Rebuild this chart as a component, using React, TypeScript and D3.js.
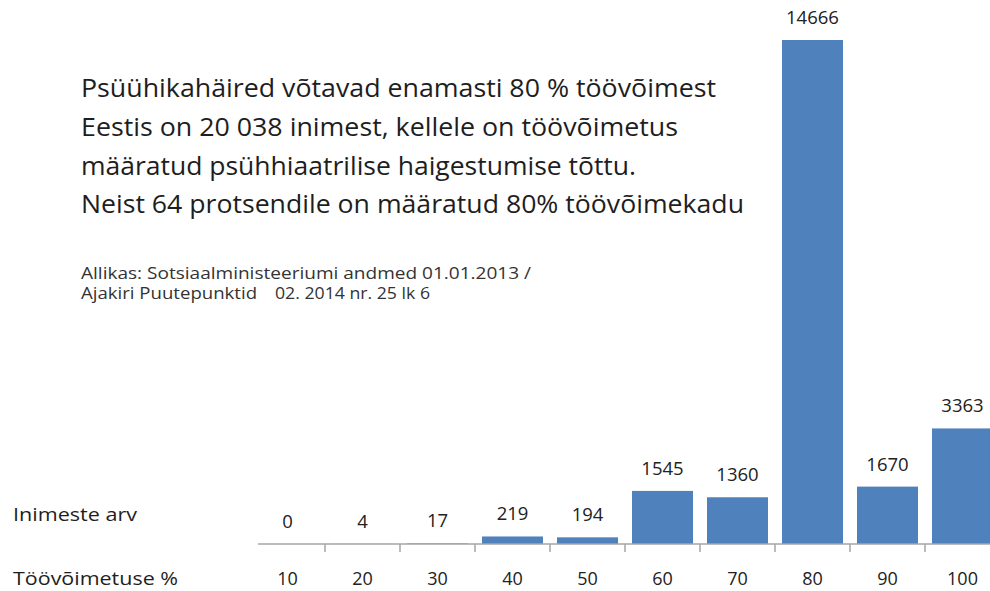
import React from "react";
import * as d3 from "d3";

const categories = ["10", "20", "30", "40", "50", "60", "70", "80", "90", "100"];
const values = [0, 4, 17, 219, 194, 1545, 1360, 14666, 1670, 3363];
const titleLines = [
  "Psüühikahäired võtavad enamasti 80 % töövõimest",
  "Eestis on 20 038 inimest, kellele on töövõimetus",
  "määratud psühhiaatrilise haigestumise tõttu.",
  "Neist 64 protsendile on määratud 80% töövõimekadu",
];
const sourceLine1 = "Allikas: Sotsiaalministeeriumi andmed 01.01.2013 /";
const sourceLine2a = "Ajakiri Puutepunktid";
const sourceLine2b = "02. 2014 nr. 25 lk 6";
const rowLabelValues = "Inimeste arv";
const rowLabelCategories = "Töövõimetuse %";

const W = 990;
const H = 591;
const FONT = "'Open Sans', 'DejaVu Sans', sans-serif";
const BAR = "#4f81bd";
const TXT = "#1e1e1e";

export default function App() {
  const x = d3
    .scaleBand<string>()
    .domain(categories)
    .range([250, 1000])
    .paddingInner(0.187)
    .paddingOuter(0.0935);
  const step = x.step();
  const baseY = 544;
  const y = d3
    .scaleLinear()
    .domain([0, d3.max(values) as number])
    .range([baseY, 40]);

  const titleWidths = [635, 597, 555, 663];
  const titleBase = [97, 136, 175, 213];

  return (
    <svg
      width={W}
      height={H}
      style={{ position: "absolute", left: 0, top: 0, background: "#fff" }}
      fontFamily={FONT}
    >
      <rect x={0} y={0} width={W} height={H} fill="#fff" />
      {titleLines.map((t, i) => (
        <text
          key={i}
          x={81}
          y={titleBase[i]}
          fontSize={25}
          fill={TXT}
          textLength={titleWidths[i]}
          lengthAdjust="spacingAndGlyphs"
        >
          {t}
        </text>
      ))}
      <text x={81} y={279} fontSize={16} fill="#333" textLength={450} lengthAdjust="spacingAndGlyphs">
        {sourceLine1}
      </text>
      <text x={81} y={299} fontSize={16} fill="#333" textLength={176} lengthAdjust="spacingAndGlyphs">
        {sourceLine2a}
      </text>
      <text x={275} y={299} fontSize={16} fill="#333" textLength={155} lengthAdjust="spacingAndGlyphs">
        {sourceLine2b}
      </text>

      <text x={13} y={521} fontSize={19} fill={TXT} textLength={124} lengthAdjust="spacingAndGlyphs">
        {rowLabelValues}
      </text>
      <text x={13} y={585} fontSize={18} fill={TXT} textLength={165} lengthAdjust="spacingAndGlyphs">
        {rowLabelCategories}
      </text>

      {categories.map((c, i) => {
        const v = values[i];
        const bx = x(c) as number;
        return (
          <g key={c}>
            <rect x={bx} y={y(v)} width={x.bandwidth()} height={baseY - y(v)} fill={BAR} />
            <text
              x={bx + x.bandwidth() / 2}
              y={y(v) - 16}
              textAnchor="middle"
              fontSize={18.5}
              fill="#222"
            >
              {v}
            </text>
            <text
              x={bx + x.bandwidth() / 2}
              y={585}
              textAnchor="middle"
              fontSize={18}
              fill="#222"
            >
              {c}
            </text>
          </g>
        );
      })}

      <line x1={258} x2={W} y1={baseY} y2={baseY} stroke="#a6a6a6" strokeWidth={1.5} />
      {categories.slice(1).map((c) => {
        const tx = (x(c) as number) - (step - x.bandwidth()) / 2;
        return <line key={"t" + c} x1={tx} x2={tx} y1={baseY} y2={baseY + 8} stroke="#a6a6a6" strokeWidth={1.5} />;
      })}
    </svg>
  );
}
